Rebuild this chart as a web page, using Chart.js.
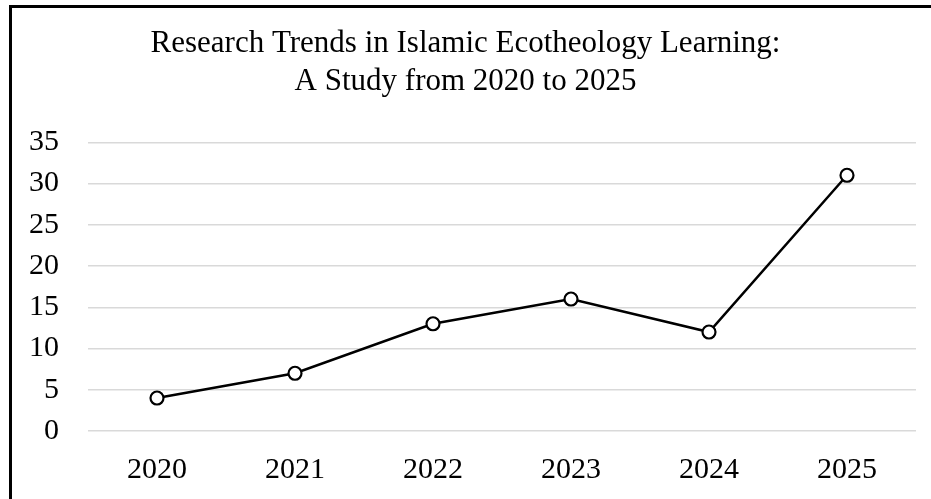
<!DOCTYPE html>
<html>
<head>
<meta charset="utf-8">
<script src="https://cdn.jsdelivr.net/npm/chart.js@4/dist/chart.umd.min.js"></script>
<style>
html,body{margin:0;padding:0;background:#fff;}
#wrap{position:relative;width:931px;height:499px;}
</style>
</head>
<body>
<div id="wrap"><canvas id="c" width="931" height="499"></canvas></div>
<script>
const years = ["2020","2021","2022","2023","2024","2025"];
const counts = [4, 7, 13, 16, 12, 31];
const titleLines = ["Research Trends in Islamic Ecotheology Learning:", "A Study from 2020 to 2025"];

const frame = {
  id: 'frame',
  afterDraw(chart) {
    const ctx = chart.ctx;
    ctx.save();
    ctx.fillStyle = '#000';
    ctx.fillRect(9, 5, 3, 494);
    ctx.fillRect(9, 5, 922, 3);
    ctx.restore();
  }
};

new Chart(document.getElementById('c'), {
  type: 'line',
  data: {
    labels: years,
    datasets: [{
      data: counts,
      yAxisID: 'y',
      borderColor: '#000',
      borderWidth: 2.5,
      pointRadius: 6.5,
      pointBorderWidth: 2.2,
      pointBackgroundColor: '#fff',
      pointBorderColor: '#000',
      tension: 0
    }]
  },
  options: {
    responsive: false,
    animation: false,
    layout: { padding: { left: 0, right: 0, top: 14, bottom: -10 } },
    plugins: {
      legend: { display: false },
      tooltip: { enabled: false },
      title: {
        display: true,
        text: titleLines,
        color: '#000',
        font: { family: 'Liberation Serif', size: 31, weight: 'normal', lineHeight: 1.23 },
        padding: { top: 11, bottom: 41 }
      }
    },
    scales: {
      x: {
        offset: true,
        grid: { display: false, drawTicks: false },
        border: { display: false },
        ticks: { color: '#000', font: { family: 'Liberation Serif', size: 30 }, padding: 21 }
      },
      y: {
        min: 0, max: 35,
        ticks: { stepSize: 5, color: '#000', font: { family: 'Liberation Serif', size: 30 }, padding: 29 },
        grid: { color: '#d9d9d9', lineWidth: 1.5, drawTicks: false },
        border: { display: false }
      },
      yr: {
        position: 'right',
        display: true,
        min: 0, max: 35,
        grid: { display: false, drawTicks: false },
        border: { display: false },
        ticks: { display: false },
        afterFit(scale) { scale.width = 15; }
      }
    }
  },
  plugins: [frame]
});
</script>
</body>
</html>
